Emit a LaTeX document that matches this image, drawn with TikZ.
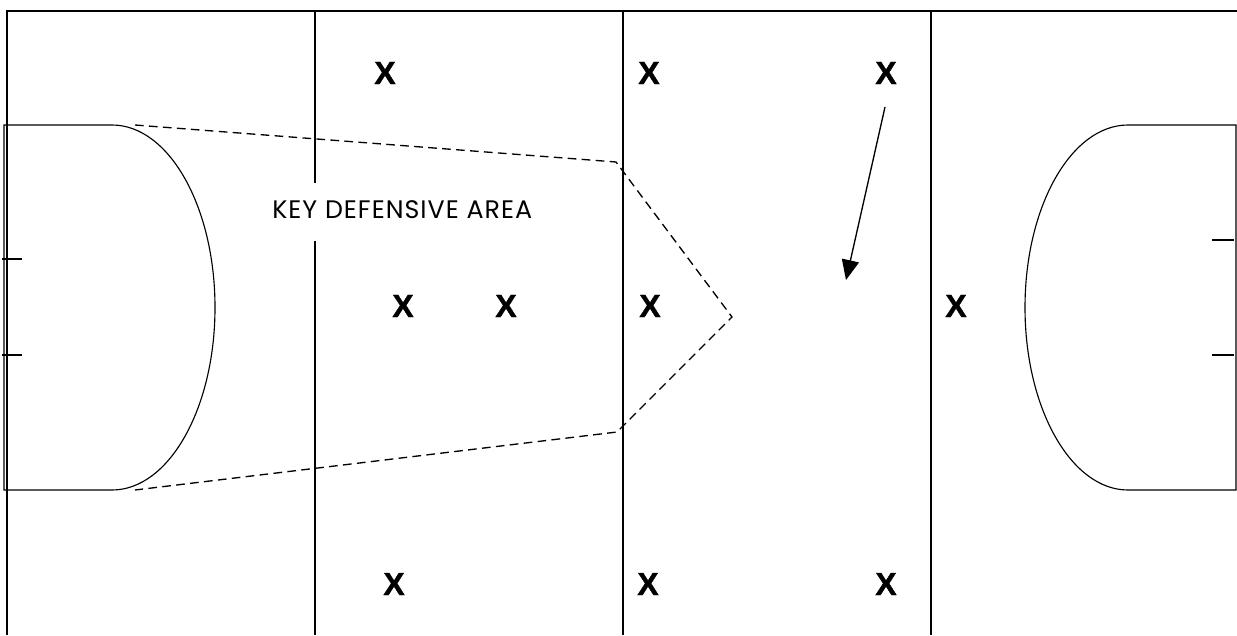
\documentclass[tikz,border=0pt]{standalone}
\usepackage{fontspec}
\newfontfamily\xfont{Liberation Sans Bold}[FakeBold=1.2]
\newfontfamily\labfont{Poppins}[LetterSpace=4]
\usetikzlibrary{arrows.meta}
\begin{document}
\begin{tikzpicture}[x=0.75pt,y=-0.75pt,
  pitch/.style={line width=1.4pt},
  goal/.style={line width=0.85pt},
  zone/.style={line width=1pt,dash pattern=on 6.5pt off 4pt},
  player/.style={font=\xfont\fontsize{24}{24}\selectfont,inner sep=0pt},
  lab/.style={font=\labfont\fontsize{19}{19}\selectfont,inner sep=0pt,anchor=west},
  run/.style={line width=1pt,-{Triangle[length=15pt,width=13pt]}}]
\useasboundingbox (0,0) rectangle (1237,635);
\fill[white] (0,0) rectangle (1237,635);
% outer border
\draw[pitch] (7,635) -- (7,11) -- (1237,11);
% zone lines
\draw[pitch] (315,11) -- (315,183);
\draw[pitch] (315,241) -- (315,635);
\draw[pitch] (623,11) -- (623,635);
\draw[pitch] (931,11) -- (931,635);
% left D
\draw[goal] (4,490) -- (4,125) -- (112,125)
  .. controls (168.9,125) and (215,206.7) .. (215,307.5)
  .. controls (215,408.3) and (168.9,490) .. (112,490) -- cycle;
\draw[goal] (2,259) -- (22,259);
\draw[goal] (2,355) -- (22,355);
% right D
\draw[goal] (1236,490) -- (1236,125) -- (1128,125)
  .. controls (1071.1,125) and (1025,206.7) .. (1025,307.5)
  .. controls (1025,408.3) and (1071.1,490) .. (1128,490) -- cycle;
\draw[goal] (1212,240) -- (1234,240);
\draw[goal] (1212,355) -- (1234,355);
% key defensive area
\draw[zone] (135,125) -- (616,162) -- (732,317) -- (617,432) -- (135,490);
\node[lab] (key) at (272,210) {KEY DEFENSIVE AREA};
% players
\node[player] (p1) at (385,73) {X};
\node[player] (p2) at (649,73) {X};
\node[player] (p3) at (886,73) {X};
\node[player] (p4) at (403,306) {X};
\node[player] (p5) at (506,306) {X};
\node[player] (p6) at (650,306) {X};
\node[player] (p7) at (956,306) {X};
\node[player] (p8) at (394,584) {X};
\node[player] (p9) at (648,584) {X};
\node[player] (p10) at (886,584) {X};
% run
\coordinate (r1) at (885,107);
\coordinate (r2) at (846,280);
\draw[run] (r1) -- (r2);
\end{tikzpicture}
\end{document}
